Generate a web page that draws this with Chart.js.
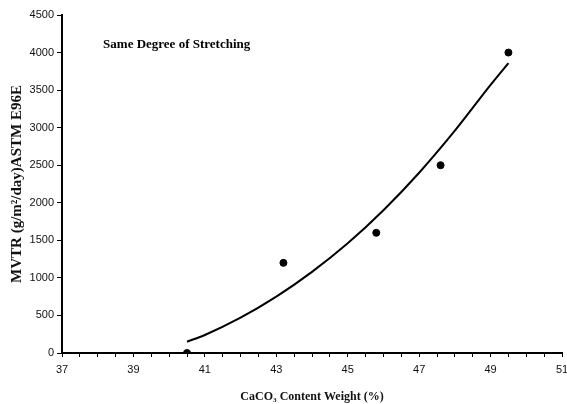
<!DOCTYPE html>
<html>
<head>
<meta charset="utf-8">
<script src="https://cdn.jsdelivr.net/npm/chart.js@4"></script>
<style>
  html, body { margin: 0; padding: 0; background: #fff; }
  #wrap { width: 567px; height: 404px; }
</style>
</head>
<body>
<div id="wrap"><canvas id="grafico" width="567" height="404"></canvas></div>
<script>
// Puntos medidos (contenido de CaCO3 en %, MVTR)
const contenidoCaCO3 = [40.5, 43.2, 45.8, 47.6, 49.5];
const valoresMVTR = [0, 1200, 1600, 2500, 4000];

// Curva de tendencia
const tendenciaX = [40.5, 41, 42, 43, 44, 45, 46, 47, 48, 49, 49.5];
const tendenciaY = [150, 240, 470, 750, 1080, 1460, 1900, 2400, 2960, 3570, 3860];

// Etiquetas de los ejes
const etiquetasX = [37, 39, 41, 43, 45, 47, 49, 51];
const tituloX = 'CaCO\u2083 Content Weight (%)';
const tituloY = 'MVTR (g/m\u00B2/day)ASTM E96E';
const nota = 'Same Degree of Stretching';

const fuenteSerif = '"Liberation Serif", "Times New Roman", serif';
const fuenteSans = '"Liberation Sans", Arial, sans-serif';

// Plugin sencillo para escribir la nota dentro del área del gráfico
const notaPlugin = {
  id: 'nota',
  afterDraw(chart) {
    const ctx = chart.ctx;
    const x = chart.scales.x.getPixelForValue(38.15);
    const y = chart.scales.y.getPixelForValue(4100);
    ctx.save();
    ctx.font = 'bold 13px ' + fuenteSerif;
    ctx.fillStyle = '#000';
    ctx.textBaseline = 'middle';
    ctx.fillText(nota, x, y);
    ctx.restore();
  }
};

const puntos = contenidoCaCO3.map((v, i) => ({ x: v, y: valoresMVTR[i] }));
const curva = tendenciaX.map((v, i) => ({ x: v, y: tendenciaY[i] }));

new Chart(document.getElementById('grafico').getContext('2d'), {
  type: 'scatter',
  data: {
    datasets: [
      {
        label: 'Medidos',
        data: puntos,
        backgroundColor: '#000',
        borderColor: '#000',
        pointRadius: 3.5,
        showLine: false
      },
      {
        label: 'Tendencia',
        data: curva,
        borderColor: '#000',
        borderWidth: 2,
        pointRadius: 0,
        showLine: true,
        cubicInterpolationMode: 'monotone'
      }
    ]
  },
  options: {
    responsive: false,
    animation: false,
    layout: { padding: { top: 15, right: 5, left: 0, bottom: 0 } },
    plugins: { legend: { display: false }, tooltip: { enabled: false } },
    scales: {
      x: {
        type: 'linear',
        min: 37,
        max: 51,
        afterBuildTicks(scale) {
          const t = [];
          for (let v = 37; v <= 51; v += 0.5) t.push({ value: v });
          scale.ticks = t;
        },
        afterFit(scale) {
          scale.height = 51;
          scale.paddingRight = 0;
          scale.paddingLeft = 0;
        },
        border: { display: true, color: '#000', width: 2 },
        grid: { drawOnChartArea: false, drawTicks: true, tickLength: 4, color: '#000', lineWidth: 1 },
        ticks: {
          autoSkip: false,
          maxRotation: 0,
          padding: 6,
          color: '#111',
          font: { family: fuenteSans, size: 11 },
          callback: (v) => etiquetasX.includes(v) ? String(v) : ''
        },
        title: {
          display: true,
          text: tituloX,
          color: '#111',
          font: { family: fuenteSerif, size: 12, weight: 'bold' },
          padding: { top: 8, bottom: 0 }
        }
      },
      y: {
        min: 0,
        max: 4500,
        afterFit(scale) { scale.width = 62; },
        border: { display: true, color: '#000', width: 2 },
        grid: { drawOnChartArea: false, drawTicks: true, tickLength: 5, color: '#000', lineWidth: 1 },
        ticks: {
          stepSize: 500,
          padding: 3,
          color: '#111',
          font: { family: fuenteSans, size: 11 },
          callback: (v) => String(v)
        },
        title: {
          display: true,
          text: tituloY,
          color: '#111',
          font: { family: fuenteSerif, size: 15, weight: 'bold' },
          padding: { top: 8, bottom: 0 }
        }
      }
    }
  },
  plugins: [notaPlugin]
});
</script>
</body>
</html>
